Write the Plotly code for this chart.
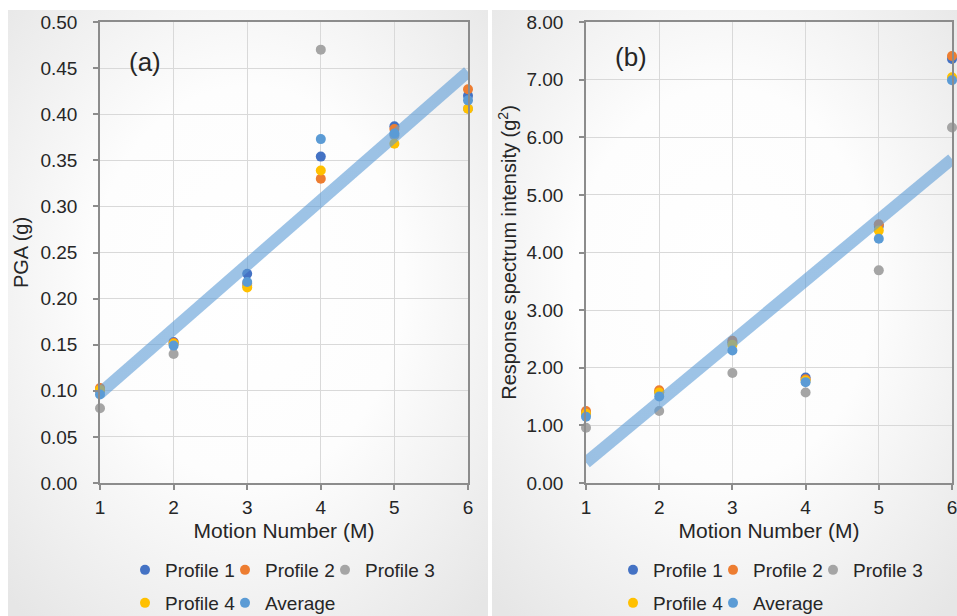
import base64
import numpy as np
import plotly.graph_objects as go

# ---------------- data ----------------
motions = [1, 2, 3, 4, 5, 6]
series_names = ["Profile 1", "Profile 2", "Profile 3", "Profile 4", "Average"]

pga_p1 = [0.100, 0.153, 0.227, 0.354, 0.387, 0.420]
pga_p2 = [0.103, 0.152, 0.216, 0.330, 0.384, 0.427]
pga_p3 = [0.081, 0.140, 0.214, 0.470, 0.377, 0.406]
pga_p4 = [0.101, 0.151, 0.212, 0.339, 0.368, 0.406]
pga_avg = [0.096, 0.149, 0.218, 0.373, 0.379, 0.415]

rsi_p1 = [1.21, 1.58, 2.44, 1.83, 4.46, 7.36]
rsi_p2 = [1.25, 1.61, 2.47, 1.80, 4.49, 7.41]
rsi_p3 = [0.96, 1.25, 1.91, 1.57, 3.69, 6.17]
rsi_p4 = [1.20, 1.57, 2.40, 1.78, 4.38, 7.04]
rsi_avg = [1.15, 1.50, 2.30, 1.75, 4.24, 6.99]

pga_ticks = [0.00, 0.05, 0.10, 0.15, 0.20, 0.25, 0.30, 0.35, 0.40, 0.45, 0.50]
rsi_ticks = [0.0, 1.0, 2.0, 3.0, 4.0, 5.0, 6.0, 7.0, 8.0]

# ---------------- style ----------------
W, H = 957, 616
colors = ["#4472C4", "#ED7D31", "#A5A5A5", "#FFC000", "#5B9BD5"]
FONT = "Liberation Sans, Arial, sans-serif"
TXT = "#262626"

def px_x(p):
    return p / W

def px_y(p):
    return 1 - p / H

fig = go.Figure()

panels = [
    dict(xa="x", ya="y", data=[pga_p1, pga_p2, pga_p3, pga_p4, pga_avg], legs=("legend", "legend2")),
    dict(xa="x2", ya="y2", data=[rsi_p1, rsi_p2, rsi_p3, rsi_p4, rsi_avg], legs=("legend3", "legend4")),
]

for pan in panels:
    for i, (name, vals) in enumerate(zip(series_names, pan["data"])):
        fig.add_trace(go.Scatter(
            x=motions, y=vals, mode="markers", name=name,
            marker=dict(color=colors[i], size=10),
            xaxis=pan["xa"], yaxis=pan["ya"], cliponaxis=False,
            legend=pan["legs"][0] if i < 3 else pan["legs"][1],
        ))
    # linear trendline of the Average series
    avg = pan["data"][4]
    k, b = np.polyfit(motions, avg, 1)
    xs = [motions[0], motions[-1]]
    fig.add_trace(go.Scatter(
        x=xs, y=[k * v + b for v in xs], mode="lines",
        line=dict(color="rgba(91,155,213,0.6)", width=12),
        showlegend=False, hoverinfo="skip",
        xaxis=pan["xa"], yaxis=pan["ya"],
    ))

# ---------------- backgrounds (radial gradient panels) ----------------
def grad_svg(w, h):
    s = (f'<svg xmlns="http://www.w3.org/2000/svg" width="{w}" height="{h}" viewBox="0 0 {w} {h}" '
         f'preserveAspectRatio="none"><defs><radialGradient id="g" cx="50%" cy="45%" r="72%">'
         f'<stop offset="0%" stop-color="#ffffff"/><stop offset="45%" stop-color="#fdfdfd"/>'
         f'<stop offset="100%" stop-color="#e6e6e6"/></radialGradient></defs>'
         f'<rect width="{w}" height="{h}" fill="url(#g)"/></svg>')
    return "data:image/svg+xml;base64," + base64.b64encode(s.encode()).decode()

images = [
    dict(source=grad_svg(480, 606), xref="paper", yref="paper",
         x=px_x(8), y=px_y(10), sizex=480 / W, sizey=606 / H,
         sizing="stretch", xanchor="left", yanchor="top", layer="below"),
    dict(source=grad_svg(465, 606), xref="paper", yref="paper",
         x=px_x(492), y=px_y(10), sizex=465 / W, sizey=606 / H,
         sizing="stretch", xanchor="left", yanchor="top", layer="below"),
]

axis_common = dict(
    showgrid=True, gridcolor="#D9D9D9", gridwidth=1.3,
    showline=True, linecolor="#8C8C8C", linewidth=1.5, mirror=True,
    ticks="outside", ticklen=5, tickcolor="#8C8C8C", tickwidth=1.5,
    zeroline=False, tickfont=dict(family=FONT, size=19, color=TXT),
    ticklabeloverflow="allow",
)

xtitle = dict(text="Motion Number (M)", font=dict(family=FONT, size=21, color=TXT), standoff=7)

fig.update_layout(
    width=W, height=H,
    margin=dict(l=0, r=0, t=0, b=0, autoexpand=False),
    paper_bgcolor="white", plot_bgcolor="rgba(0,0,0,0)",
    images=images,
    font=dict(family=FONT, color=TXT),
    xaxis=dict(domain=[px_x(100), px_x(468)], range=[1, 6], tickvals=motions,
               title=xtitle, anchor="y", ticklabelstandoff=1, **axis_common),
    yaxis=dict(domain=[px_y(483), px_y(22)], range=[0, 0.5], tickvals=pga_ticks,
               tickformat=".2f", anchor="x", ticklabelstandoff=12,
               title=dict(text="PGA (g)", font=dict(family=FONT, size=20, color=TXT), standoff=6),
               **axis_common),
    xaxis2=dict(domain=[px_x(586), px_x(952)], range=[1, 6], tickvals=motions,
                title=xtitle, anchor="y2", ticklabelstandoff=1, **axis_common),
    yaxis2=dict(domain=[px_y(483), px_y(22)], range=[0, 8], tickvals=rsi_ticks,
                tickformat=".2f", anchor="x2", ticklabelstandoff=12,
                title=dict(text="Response spectrum intensity (g<sup>2</sup>)",
                           font=dict(family=FONT, size=20, color=TXT), standoff=4),
                **axis_common),
    annotations=[
        dict(text="(a)", x=px_x(145), y=px_y(62), xref="paper", yref="paper",
             xanchor="center", yanchor="middle",
             showarrow=False, font=dict(family=FONT, size=26, color=TXT)),
        dict(text="(b)", x=px_x(631), y=px_y(57), xref="paper", yref="paper",
             xanchor="center", yanchor="middle",
             showarrow=False, font=dict(family=FONT, size=26, color=TXT)),
    ],
)

leg_common = dict(orientation="h", xanchor="left", yanchor="middle",
                  bgcolor="rgba(0,0,0,0)", font=dict(family=FONT, size=19, color=TXT),
                  itemwidth=30, indentation=-15, entrywidth=70, entrywidthmode="pixels")
fig.update_layout(
    legend=dict(x=px_x(140), y=px_y(570), **leg_common),
    legend2=dict(x=px_x(140), y=px_y(603), **leg_common),
    legend3=dict(x=px_x(628), y=px_y(570), **leg_common),
    legend4=dict(x=px_x(628), y=px_y(603), **leg_common),
)

fig.write_html("out.html")
